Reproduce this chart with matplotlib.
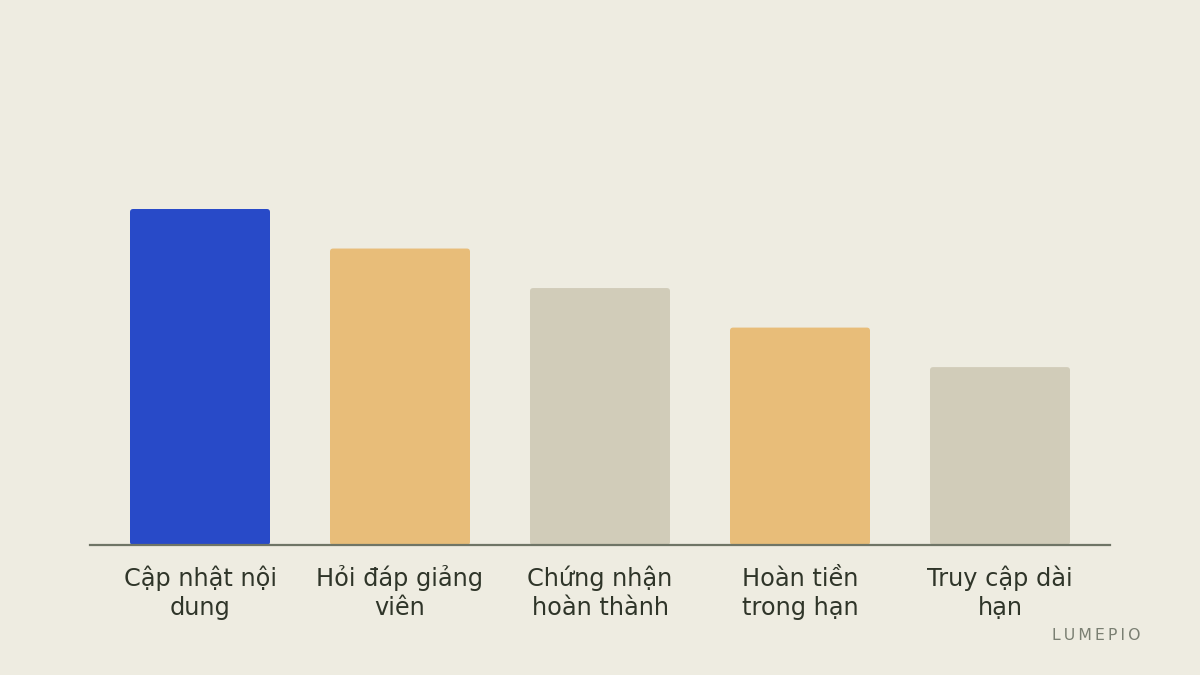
import matplotlib
matplotlib.use("Agg")
import matplotlib.pyplot as plt
from matplotlib.patches import FancyBboxPatch

# chart data
categories = ["Cập nhật nội\ndung", "Hỏi đáp giảng\nviên", "Chứng nhận\nhoàn thành",
              "Hoàn tiền\ntrong hạn", "Truy cập dài\nhạn"]
values = [85, 75, 65, 55, 45]
bar_colors = ["#284AC8", "#E8BD79", "#D1CCB9", "#E8BD79", "#D1CCB9"]

BG = "#EEECE1"
TEXT = "#2F3529"
AXIS = "#6F7566"

fig = plt.figure(figsize=(12, 6.75), dpi=100, facecolor=BG)
ax = fig.add_axes([0.075, 1 - 545 / 675, 0.85, 495 / 675])
ax.set_facecolor(BG)

bars = ax.bar(range(len(values)), values, width=0.7, color=bar_colors)
ax.set_xlim(-0.55, len(values) - 0.45)
ax.set_ylim(0, 495 / (336 / 85))

# swap the plain rectangles for slightly rounded ones
for rect in bars:
    x, y = rect.get_x(), rect.get_y()
    w, h = rect.get_width(), rect.get_height()
    rect.set_visible(False)
    ax.add_patch(FancyBboxPatch((x, y), w, h,
                                boxstyle="round,pad=0,rounding_size=0.016",
                                mutation_aspect=50,
                                facecolor=rect.get_facecolor(), edgecolor="none"))

for side in ["top", "right", "left"]:
    ax.spines[side].set_visible(False)
ax.spines["bottom"].set_color(AXIS)
ax.spines["bottom"].set_linewidth(1.6)
ax.set_yticks([])
ax.set_xticks([])

# category labels; va="baseline" pins the last line, so all rows line up
for i, label in enumerate(categories):
    ax.text(i, -70 / 495, label, transform=ax.get_xaxis_transform(),
            ha="center", va="baseline", multialignment="center",
            fontsize=17.3, color=TEXT, linespacing=1.25)

fig.text(0.95, 1 - 636 / 675, "L\u2009U\u2009M\u2009E\u2009P\u2009I\u2009O", ha="right", va="center",
         fontsize=11.3, color="#7A7F72")

fig.savefig("out.png", dpi=100, facecolor=BG)
